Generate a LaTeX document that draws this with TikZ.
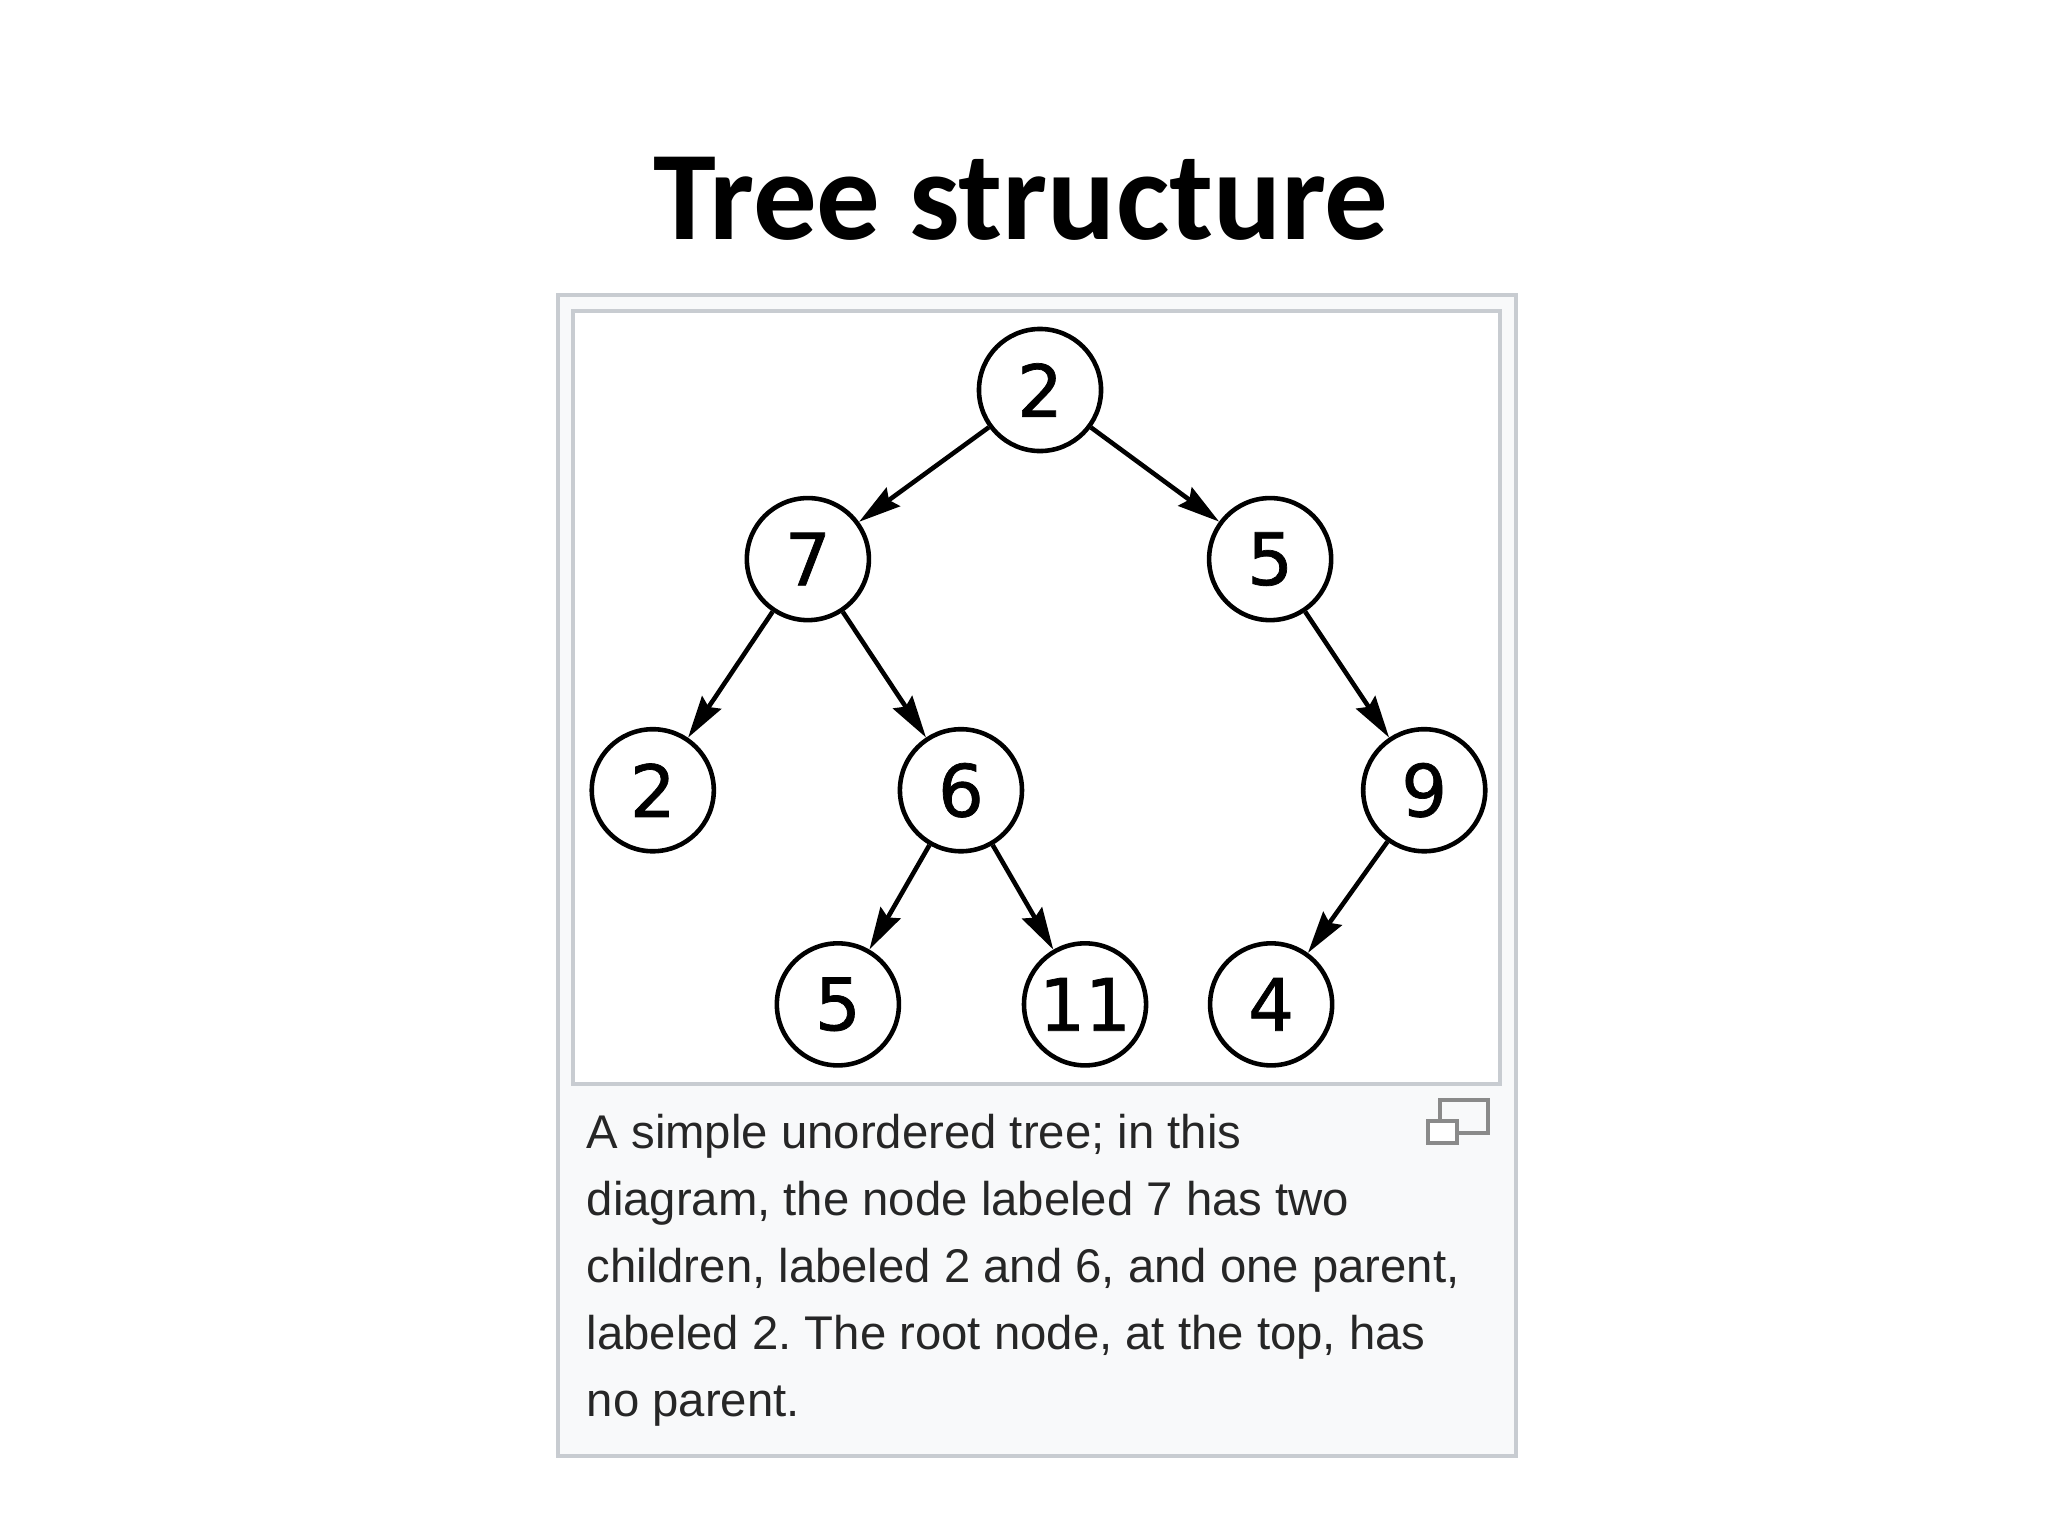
\documentclass[tikz,border=0pt]{standalone}
\usepackage{fontspec}
\setmainfont{Liberation Sans}
\newfontfamily\titlefont{Carlito}
\newfontfamily\digitfont[FakeBold=1]{DejaVu Sans}
\usetikzlibrary{arrows.meta, positioning}
\frenchspacing

\definecolor{framegray}{HTML}{C8CCD1}
\definecolor{capback}{HTML}{F8F9FA}
\definecolor{icongray}{HTML}{8A8A8A}

\begin{document}
\begin{tikzpicture}[
        x=0.01cm, y=-0.01cm,
        on grid,
        vertex/.style={circle, draw, line width=1.3pt, minimum size=1.22cm, inner sep=0pt, font=\digitfont\fontsize{20.5}{24}\selectfont},
        arrow/.style={line width=1.3pt, -{Stealth[length=12pt, width=6.5pt, inset=1.5pt]}},
        frame/.style={draw=framegray, line width=1pt}
    ]
    \useasboundingbox[fill=white] (0,0) rectangle (2048,1536);

    % Title
    \node (title) [anchor=base, font=\titlefont\bfseries\fontsize{36.1}{40}\selectfont] at (1021,239) {Tree structure};

    % Frames
    \draw [frame, fill=capback] (558,295) rectangle (1516,1456);
    \draw [frame, fill=white] (573,311) rectangle (1500,1084);

    % Nodes
    \node (r) [vertex] at (1040,390) {2};
    \node (n7) [vertex, below left=1.69cm and 2.32cm of r] {7};
    \node (n5) [vertex, below right=1.69cm and 2.30cm of r] {5};
    \node (n2) [vertex, below left=2.31cm and 1.55cm of n7] {2};
    \node (n6) [vertex, below right=2.31cm and 1.53cm of n7] {6};
    \node (n9) [vertex, below right=2.31cm and 1.54cm of n5] {9};
    \node (n5b) [vertex, below left=2.14cm and 1.23cm of n6] {5};
    \node (n11) [vertex, below right=2.14cm and 1.24cm of n6] {11};
    \node (n4) [vertex, below left=2.14cm and 1.53cm of n9] {4};

    % Arrows
    \draw [arrow] (r) -- (n7);
    \draw [arrow] (r) -- (n5);
    \draw [arrow] (n7) -- (n2);
    \draw [arrow] (n7) -- (n6);
    \draw [arrow] (n5) -- (n9);
    \draw [arrow] (n6) -- (n5b);
    \draw [arrow] (n6) -- (n11);
    \draw [arrow] (n9) -- (n4);

    % Caption
    \node (cap) [anchor=base west, align=left, inner sep=0pt, text=black!85, font=\fontsize{13.45}{19}\selectfont] at (586,1416)
        {A simple unordered tree; in this\\
         diagram, the node labeled 7 has two\\
         children, labeled 2 and 6, and one parent,\\
         labeled 2. The root node, at the top, has\\
         no parent.};

    % Enlarge icon
    \draw [icongray, line width=1.2pt] (1440,1100) rectangle (1488,1133);
    \draw [icongray, line width=1.2pt, fill=white] (1428,1121) rectangle (1457,1143);
\end{tikzpicture}
\end{document}
